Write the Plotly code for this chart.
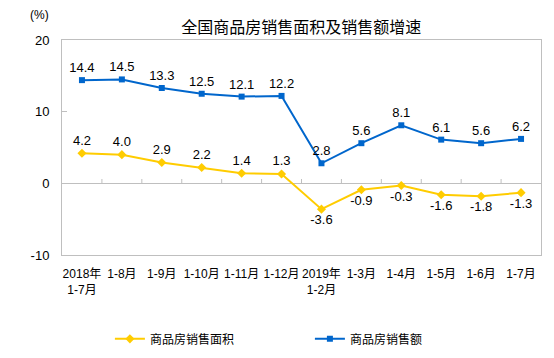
import plotly.graph_objects as go

categories = ["2018年<br>1-7月", "1-8月", "1-9月", "1-10月", "1-11月", "1-12月",
              "2019年<br>1-2月", "1-3月", "1-4月", "1-5月", "1-6月", "1-7月"]
area_growth = [4.2, 4.0, 2.9, 2.2, 1.4, 1.3, -3.6, -0.9, -0.3, -1.6, -1.8, -1.3]
sales_growth = [14.4, 14.5, 13.3, 12.5, 12.1, 12.2, 2.8, 5.6, 8.1, 6.1, 5.6, 6.2]
series_names = ["商品房销售面积", "商品房销售额"]
title_text = "全国商品房销售面积及销售额增速"
y_ticks = [-10, 0, 10, 20]
y_ticktext = ["-10", "0", "10", "20"]

FONT = "Liberation Sans, Arial, Noto Sans CJK SC, sans-serif"
CJK = "Noto Sans CJK SC, sans-serif"
YELLOW = "#FFCC00"
BLUE = "#0066CC"

xs = list(range(len(categories)))
area_pos = ["top center" if v > 0 else "bottom center" for v in area_growth]

fig = go.Figure()
fig.add_trace(go.Scatter(
    x=xs, y=area_growth, name=series_names[0], mode="lines+markers+text",
    line=dict(color=YELLOW, width=2),
    marker=dict(symbol="diamond", size=7, color=YELLOW),
    text=[f"{v:.1f}" for v in area_growth], textposition=area_pos,
    textfont=dict(family=FONT, size=13, color="#000000"),
    cliponaxis=False,
))
fig.add_trace(go.Scatter(
    x=xs, y=sales_growth, name=series_names[1], mode="lines+markers+text",
    line=dict(color=BLUE, width=2),
    marker=dict(symbol="square", size=6, color=BLUE),
    text=[f"{v:.1f}" for v in sales_growth], textposition="top center",
    textfont=dict(family=FONT, size=13, color="#000000"),
    cliponaxis=False,
))

# tick marks on the zero line at category boundaries
shapes = []
for i in range(len(categories) - 1):
    shapes.append(dict(type="line", xref="x", yref="y", x0=i + 0.5, x1=i + 0.5,
                       y0=0, y1=0.6, line=dict(color="#BFBFBF", width=1)))

# the page body adds an 8px margin, so the figure is 8px smaller and shifted
fig.update_layout(
    width=546, height=350,
    margin=dict(l=54, r=13, t=32, b=103, autoexpand=False),
    paper_bgcolor="white", plot_bgcolor="white",
    font=dict(family=FONT, size=12, color="#000000"),
    title=dict(text=title_text, x=0.537, xanchor="center", y=0.946, yanchor="middle",
               font=dict(family=CJK, size=16, color="#000000")),
    showlegend=True,
    legend=dict(orientation="h", x=0.1, xanchor="left", y=-0.39, yanchor="middle",
                entrywidth=155, entrywidthmode="pixels",
                font=dict(family=CJK, size=12)),
    shapes=shapes,
    annotations=[dict(text="(%)", xref="paper", yref="paper", x=-0.046, y=1.116,
                      xanchor="center", yanchor="middle", showarrow=False,
                      font=dict(family=FONT, size=12))],
)
fig.update_xaxes(
    range=[-0.5, len(categories) - 0.5], tickmode="array", tickvals=xs, ticktext=categories,
    showgrid=False, zeroline=False, showline=True, linecolor="#BFBFBF", mirror=True,
    ticks="", tickfont=dict(family=FONT, size=12), ticklabelstandoff=8,
)
fig.update_yaxes(
    range=[-10, 20], tickmode="array", tickvals=y_ticks, ticktext=y_ticktext,
    showgrid=False, zeroline=True, zerolinecolor="#BFBFBF",
    zerolinewidth=1, showline=True, linecolor="#BFBFBF", mirror=True,
    ticks="inside", ticklen=5, tickcolor="#BFBFBF", tickfont=dict(family=FONT, size=13),
    ticklabelstandoff=9,
)

fig.write_html("out.html")
